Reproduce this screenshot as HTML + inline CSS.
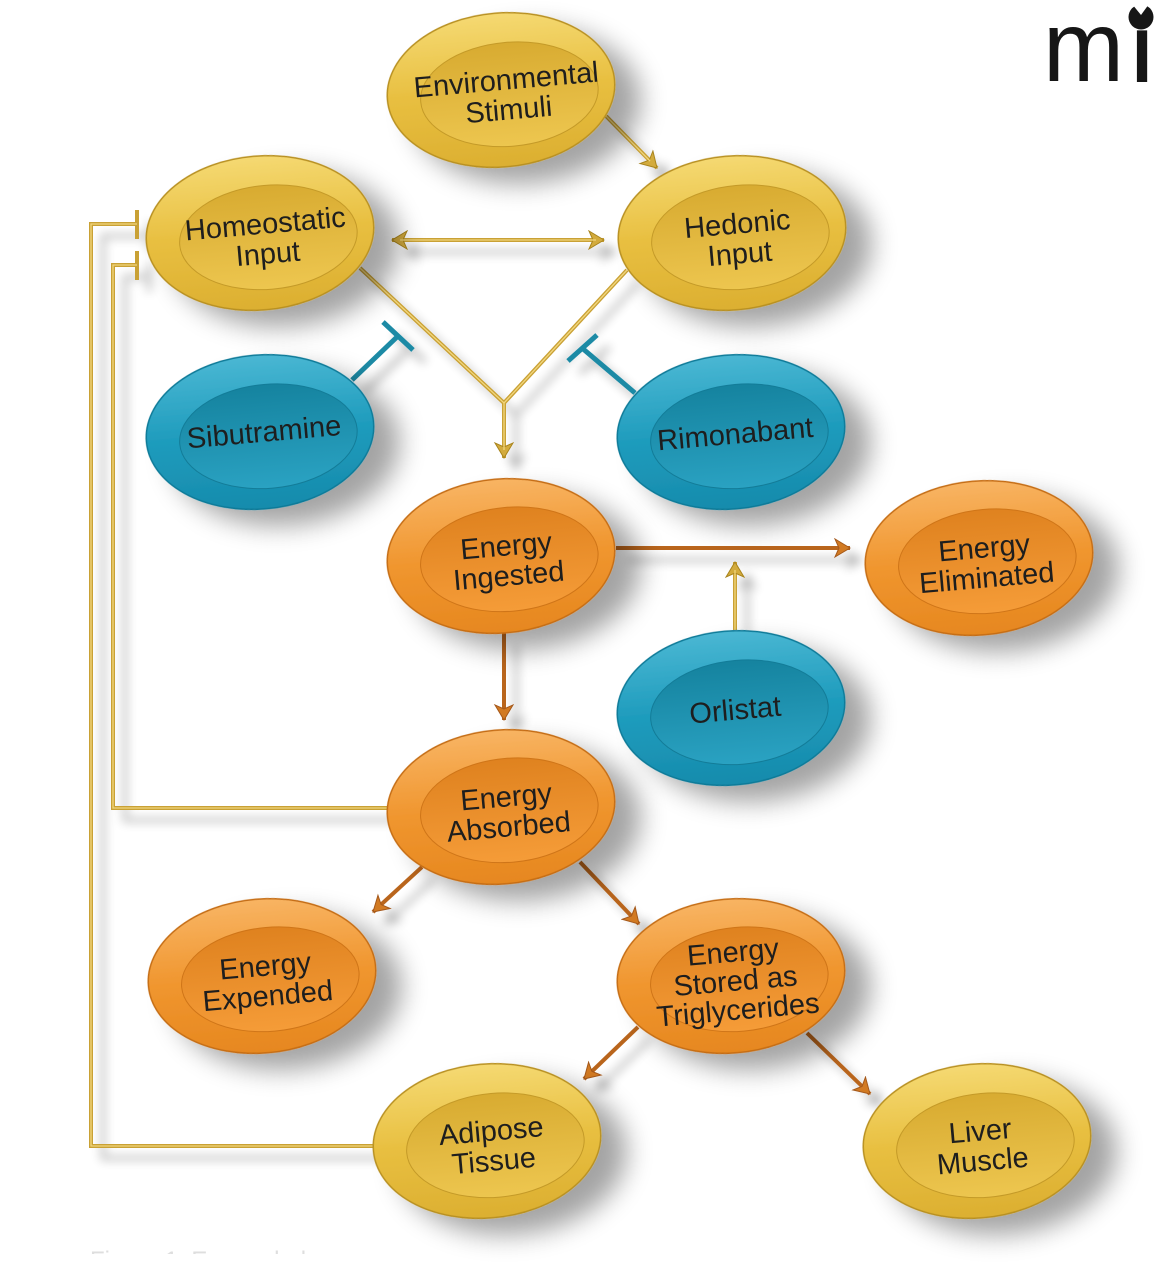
<!DOCTYPE html>
<html><head><meta charset="utf-8"><style>
html,body{margin:0;padding:0;background:#fff;}
svg{display:block;}
text{font-family:"Liberation Sans",Arial,sans-serif;}
</style></head><body>
<svg width="1156" height="1280" viewBox="0 0 1156 1280" xmlns="http://www.w3.org/2000/svg">
<defs>
  <filter id="sh" x="-40%" y="-40%" width="200%" height="200%">
    <feGaussianBlur in="SourceAlpha" stdDeviation="13"/>
    <feOffset dx="24" dy="18" result="b"/>
    <feComponentTransfer><feFuncA type="linear" slope="0.36"/></feComponentTransfer>
    <feMerge><feMergeNode/><feMergeNode in="SourceGraphic"/></feMerge>
  </filter>
  <filter id="lsh" x="-20%" y="-20%" width="140%" height="140%">
    <feGaussianBlur in="SourceAlpha" stdDeviation="5"/>
    <feOffset dx="12" dy="12"/>
    <feComponentTransfer><feFuncA type="linear" slope="0.3"/></feComponentTransfer>
    <feMerge><feMergeNode/><feMergeNode in="SourceGraphic"/></feMerge>
  </filter>
  <linearGradient id="gO" x1="0" y1="0" x2="0" y2="1">
    <stop offset="0" stop-color="#f5d972"/><stop offset="0.5" stop-color="#e8bf40"/><stop offset="1" stop-color="#dcaf31"/>
  </linearGradient>
  <linearGradient id="gI" x1="0" y1="0" x2="0" y2="1">
    <stop offset="0" stop-color="#d8ab31"/><stop offset="1" stop-color="#edc64f"/>
  </linearGradient>
  <linearGradient id="oO" x1="0" y1="0" x2="0" y2="1">
    <stop offset="0" stop-color="#f8b463"/><stop offset="0.5" stop-color="#f0962f"/><stop offset="1" stop-color="#e6871f"/>
  </linearGradient>
  <linearGradient id="oI" x1="0" y1="0" x2="0" y2="1">
    <stop offset="0" stop-color="#df821f"/><stop offset="1" stop-color="#f59c38"/>
  </linearGradient>
  <linearGradient id="tO" x1="0" y1="0" x2="0" y2="1">
    <stop offset="0" stop-color="#4ab7d3"/><stop offset="0.5" stop-color="#1f9cbd"/><stop offset="1" stop-color="#168bac"/>
  </linearGradient>
  <linearGradient id="tI" x1="0" y1="0" x2="0" y2="1">
    <stop offset="0" stop-color="#15839f"/><stop offset="1" stop-color="#2aa2c2"/>
  </linearGradient>
  <marker id="ag" markerUnits="userSpaceOnUse" markerWidth="20" markerHeight="22" refX="16" refY="10" orient="auto">
    <path d="M16,10 L1,1 L5,10 L1,19 Z" fill="#d3ab3c" stroke="#a8841f" stroke-width="1"/>
  </marker>
  <marker id="agS" markerUnits="userSpaceOnUse" markerWidth="20" markerHeight="22" refX="4" refY="10" orient="auto">
    <path d="M4,10 L19,1 L15,10 L19,19 Z" fill="#d3ab3c" stroke="#a8841f" stroke-width="1"/>
  </marker>
  <marker id="ao" markerUnits="userSpaceOnUse" markerWidth="20" markerHeight="22" refX="16" refY="10" orient="auto">
    <path d="M16,10 L1,1 L5,10 L1,19 Z" fill="#d27a22" stroke="#a4581a" stroke-width="1"/>
  </marker>
  <clipPath id="cap"><rect x="0" y="1244" width="1156" height="10"/></clipPath>
</defs>

<!-- connectors -->
<g filter="url(#lsh)" fill="none" stroke-linecap="butt">
  <g stroke="#c9a136" stroke-width="4">
    <path d="M606,116 L657,168" marker-end="url(#ag)"/>
    <path d="M392,240 L604,240" marker-end="url(#ag)" marker-start="url(#agS)"/>
    <path d="M360,268 L504,403 L627,270"/>
    <path d="M504,403 L504,458" marker-end="url(#ag)"/>
    <path d="M735,630 L735,562" marker-end="url(#ag)"/>
    <path d="M376,1146 H91 V224 H137"/>
    <path d="M389,808 H113 V265 H137"/>
    <path d="M137,210 V239 M137,251 V280"/>
  </g>
  <g stroke="#f2d77e" stroke-width="1.3">
    <path d="M606,116 L650,161"/>
    <path d="M400,240 L596,240"/>
    <path d="M360,268 L504,403 L627,270"/>
    <path d="M504,403 L504,450"/>
    <path d="M735,630 L735,570"/>
    <path d="M376,1146 H91 V224 H137"/>
    <path d="M389,808 H113 V265 H137"/>
  </g>
  <g stroke="#1a8aa5" stroke-width="5">
    <path d="M352,380 L398,336"/>
    <path d="M383,322 L413,350"/>
    <path d="M635,393 L582,348"/>
    <path d="M568,361 L597,335"/>
  </g>
  <g stroke="#b9651c" stroke-width="4">
    <path d="M616,548 L850,548" marker-end="url(#ao)"/>
    <path d="M504,633 L504,720" marker-end="url(#ao)"/>
    <path d="M422,867 L373,912" marker-end="url(#ao)"/>
    <path d="M580,862 L639,924" marker-end="url(#ao)"/>
    <path d="M638,1027 L584,1079" marker-end="url(#ao)"/>
    <path d="M807,1033 L870,1094" marker-end="url(#ao)"/>
  </g>
</g>

<!-- nodes -->
<g font-size="29" fill="#1e1e1e" text-anchor="middle">
  <g transform="translate(501,90) rotate(-5)">
    <ellipse rx="114" ry="77" fill="url(#gO)" stroke="#b89020" stroke-width="1.5" filter="url(#sh)"/>
    <ellipse cx="8" cy="5" rx="89" ry="52" fill="url(#gI)" stroke="#c49a28" stroke-width="1"/>
    <text x="6" y="0">Environmental</text><text x="6" y="30">Stimuli</text>
  </g>
  <g transform="translate(260,233) rotate(-5)">
    <ellipse rx="114" ry="77" fill="url(#gO)" stroke="#b89020" stroke-width="1.5" filter="url(#sh)"/>
    <ellipse cx="8" cy="5" rx="89" ry="52" fill="url(#gI)" stroke="#c49a28" stroke-width="1"/>
    <text x="6" y="1">Homeostatic</text><text x="6" y="31">Input</text>
  </g>
  <g transform="translate(732,233) rotate(-5)">
    <ellipse rx="114" ry="77" fill="url(#gO)" stroke="#b89020" stroke-width="1.5" filter="url(#sh)"/>
    <ellipse cx="8" cy="5" rx="89" ry="52" fill="url(#gI)" stroke="#c49a28" stroke-width="1"/>
    <text x="6" y="1">Hedonic</text><text x="6" y="31">Input</text>
  </g>
  <g transform="translate(260,432) rotate(-5)">
    <ellipse rx="114" ry="77" fill="url(#tO)" stroke="#0f7a98" stroke-width="1.5" filter="url(#sh)"/>
    <ellipse cx="8" cy="5" rx="89" ry="52" fill="url(#tI)" stroke="#137c98" stroke-width="1"/>
    <text x="4" y="10">Sibutramine</text>
  </g>
  <g transform="translate(731,432) rotate(-5)">
    <ellipse rx="114" ry="77" fill="url(#tO)" stroke="#0f7a98" stroke-width="1.5" filter="url(#sh)"/>
    <ellipse cx="8" cy="5" rx="89" ry="52" fill="url(#tI)" stroke="#137c98" stroke-width="1"/>
    <text x="4" y="12">Rimonabant</text>
  </g>
  <g transform="translate(501,556) rotate(-5)">
    <ellipse rx="114" ry="77" fill="url(#oO)" stroke="#c56d12" stroke-width="1.5" filter="url(#sh)"/>
    <ellipse cx="8" cy="4" rx="89" ry="52" fill="url(#oI)" stroke="#cf7518" stroke-width="1"/>
    <text x="6" y="0">Energy</text><text x="6" y="30">Ingested</text>
  </g>
  <g transform="translate(979,558) rotate(-5)">
    <ellipse rx="114" ry="77" fill="url(#oO)" stroke="#c56d12" stroke-width="1.5" filter="url(#sh)"/>
    <ellipse cx="8" cy="4" rx="89" ry="52" fill="url(#oI)" stroke="#cf7518" stroke-width="1"/>
    <text x="6" y="0">Energy</text><text x="6" y="30">Eliminated</text>
  </g>
  <g transform="translate(731,708) rotate(-5)">
    <ellipse rx="114" ry="77" fill="url(#tO)" stroke="#0f7a98" stroke-width="1.5" filter="url(#sh)"/>
    <ellipse cx="8" cy="5" rx="89" ry="52" fill="url(#tI)" stroke="#137c98" stroke-width="1"/>
    <text x="4" y="12">Orlistat</text>
  </g>
  <g transform="translate(501,807) rotate(-5)">
    <ellipse rx="114" ry="77" fill="url(#oO)" stroke="#c56d12" stroke-width="1.5" filter="url(#sh)"/>
    <ellipse cx="8" cy="4" rx="89" ry="52" fill="url(#oI)" stroke="#cf7518" stroke-width="1"/>
    <text x="6" y="0">Energy</text><text x="6" y="30">Absorbed</text>
  </g>
  <g transform="translate(262,976) rotate(-5)">
    <ellipse rx="114" ry="77" fill="url(#oO)" stroke="#c56d12" stroke-width="1.5" filter="url(#sh)"/>
    <ellipse cx="8" cy="4" rx="89" ry="52" fill="url(#oI)" stroke="#cf7518" stroke-width="1"/>
    <text x="4" y="0">Energy</text><text x="4" y="30">Expended</text>
  </g>
  <g transform="translate(731,976) rotate(-5)">
    <ellipse rx="114" ry="77" fill="url(#oO)" stroke="#c56d12" stroke-width="1.5" filter="url(#sh)"/>
    <ellipse cx="8" cy="4" rx="89" ry="52" fill="url(#oI)" stroke="#cf7518" stroke-width="1"/>
    <text x="4" y="-14">Energy</text><text x="4" y="15">Stored as</text><text x="4" y="44">Triglycerides</text>
  </g>
  <g transform="translate(487,1141) rotate(-5)">
    <ellipse rx="114" ry="77" fill="url(#gO)" stroke="#b89020" stroke-width="1.5" filter="url(#sh)"/>
    <ellipse cx="8" cy="5" rx="89" ry="52" fill="url(#gI)" stroke="#c49a28" stroke-width="1"/>
    <text x="5" y="0">Adipose</text><text x="5" y="30">Tissue</text>
  </g>
  <g transform="translate(977,1141) rotate(-5)">
    <ellipse rx="114" ry="77" fill="url(#gO)" stroke="#b89020" stroke-width="1.5" filter="url(#sh)"/>
    <ellipse cx="8" cy="5" rx="89" ry="52" fill="url(#gI)" stroke="#c49a28" stroke-width="1"/>
    <text x="4" y="0">Liver</text><text x="4" y="30">Muscle</text>
  </g>
</g>

<!-- logo -->
<g fill="#161616">
  <text x="1043" y="81" font-size="100" textLength="81" lengthAdjust="spacingAndGlyphs">m</text>
  <text x="1129" y="81" font-size="94" stroke="#161616" stroke-width="2">ı</text>
  <circle cx="1141" cy="17" r="12.5"/>
  <path d="M1132,4 L1149,4 L1141,15 Z" fill="#fff"/>
</g>

<!-- faint caption remnant -->
<g clip-path="url(#cap)">
  <text x="90" y="1268" font-size="24" fill="#dedede">Figure 1: Energy balance</text>
</g>
</svg>
</body></html>
